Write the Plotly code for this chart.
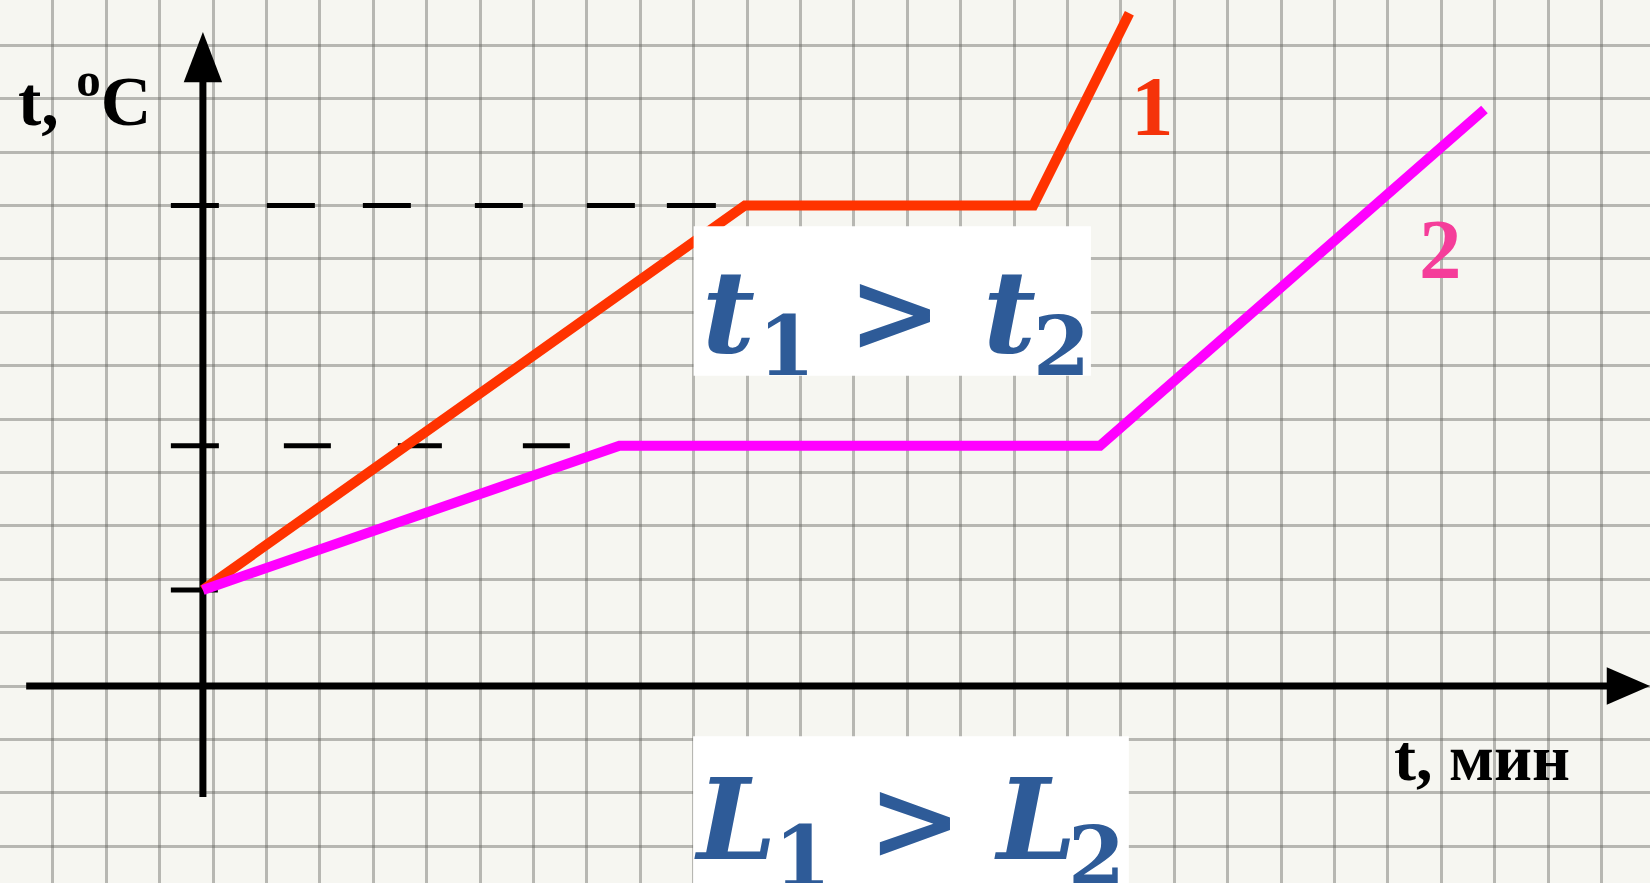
import plotly.graph_objects as go

# one grid cell of the paper = one unit on both axes
# curve 1 (red) and curve 2 (magenta): time vs temperature
time_1 = [0, 10.15, 15.55, 17.35]
temp_1 = [1.8, 9.0, 9.0, 12.6]
time_2 = [0, 7.8, 16.8, 24.0]
temp_2 = [1.8, 4.5, 4.5, 10.8]

# guide levels on the temperature axis and where each guide stops
guide_levels = [1.8, 4.5, 9.0]
guide_ends = [0.28, 7.8, 10.15]
guide_start = -0.6
guide_dashes = ["48px,48px",
                "48px,65px,47px,67px,44px,81px,47px,200px",
                "48px,48px,48px,48px,48px,64px,48px,64px,48px,32px,49px,200px"]

x_range = [-3.80, 27.10]
y_range = [-3.69, 12.85]
W, H = 1650, 883

PAPER = "#f6f6f1"
GRID = "rgba(95,95,90,0.42)"
RED = "#ff3300"
PINK = "#ff00ff"
BLUE = "#2e5b98"


def px_x(px):
    return x_range[0] + (x_range[1] - x_range[0]) * px / W


def px_y(py):
    return y_range[1] - (y_range[1] - y_range[0]) * py / H


fig = go.Figure()

# axes with arrow heads
fig.add_trace(go.Scatter(x=[-3.31, 26.3], y=[0, 0], mode="lines",
                         line=dict(color="black", width=7), hoverinfo="skip"))
fig.add_trace(go.Scatter(x=[0, 0], y=[-2.08, 11.35], mode="lines",
                         line=dict(color="black", width=7), hoverinfo="skip"))
fig.add_trace(go.Scatter(x=[26.29, 27.10, 26.29, 26.29], y=[0.35, 0, -0.35, 0.35],
                         mode="lines", fill="toself", fillcolor="black",
                         line=dict(color="black", width=0), hoverinfo="skip"))
fig.add_trace(go.Scatter(x=[-0.36, 0, 0.36, -0.36], y=[11.31, 12.25, 11.31, 11.31],
                         mode="lines", fill="toself", fillcolor="black",
                         line=dict(color="black", width=0), hoverinfo="skip"))

# dashed guides to the plateaus
for lvl, end, dash in zip(guide_levels, guide_ends, guide_dashes):
    fig.add_trace(go.Scatter(x=[guide_start, end], y=[lvl, lvl], mode="lines",
                             line=dict(color="black", width=5, dash=dash),
                             hoverinfo="skip"))

fig.add_trace(go.Scatter(x=time_1, y=temp_1, mode="lines",
                         line=dict(color=RED, width=10)))
fig.add_trace(go.Scatter(x=time_2, y=temp_2, mode="lines",
                         line=dict(color=PINK, width=10)))

# white panels behind the formulas
fig.add_shape(type="rect", x0=9.19, x1=16.63, y0=5.81, y1=8.61, layer="above",
              fillcolor="white", line=dict(width=0))
fig.add_shape(type="rect", x0=9.18, x1=17.34, y0=-4.0, y1=-0.94, layer="above",
              fillcolor="white", line=dict(width=0))

serif = "Liberation Serif"
math = "DejaVu Serif"

fig.add_annotation(x=-3.50, y=10.19, xanchor="left", yanchor="bottom", showarrow=False,
                   text="<b>t, <sup>o</sup>C</b>", font=dict(family=serif, size=70, color="black"))
fig.add_annotation(x=22.27, y=-2.06, xanchor="left", yanchor="bottom", showarrow=False,
                   text="<b>t, мин</b>", font=dict(family=serif, size=66, color="black"))
fig.add_annotation(x=17.79, y=9.94, xanchor="center", yanchor="bottom", showarrow=False,
                   text="<b>1</b>", font=dict(family=serif, size=85, color="#f5330a"))
fig.add_annotation(x=23.18, y=7.27, xanchor="center", yanchor="bottom", showarrow=False,
                   text="<b>2</b>", font=dict(family=serif, size=85, color="#f53d9a"))

# formulas set piece by piece: (text, font size, left px, baseline px)
formula_t = [("<i>t</i>", 115, 700, 350), ("1", 82, 756, 373), (">", 112, 846, 349),
             ("<i>t</i>", 115, 981, 350), ("2", 82, 1031, 373)]
formula_L = [("<i>L</i>", 113, 692, 857), ("1", 82, 772, 883), (">", 112, 866, 857),
             ("<i>L</i>", 113, 992, 857), ("2", 82, 1066, 883)]
for txt, size, left, base in formula_t + formula_L:
    top = base - 0.928 * size - 1
    fig.add_annotation(x=px_x(left), y=px_y(top), xanchor="left", yanchor="top",
                       showarrow=False, text="<b>" + txt + "</b>",
                       font=dict(family=math, size=size, color=BLUE))

fig.update_layout(
    width=W, height=H,
    margin=dict(l=0, r=0, t=0, b=0),
    paper_bgcolor=PAPER, plot_bgcolor=PAPER,
    showlegend=False,
    xaxis=dict(range=x_range, showgrid=True, dtick=1, tick0=0.191, gridcolor=GRID,
               gridwidth=3, zeroline=False, showticklabels=False, ticks="",
               showline=False, fixedrange=True),
    yaxis=dict(range=y_range, showgrid=True, dtick=1, tick0=0, gridcolor=GRID,
               gridwidth=3, zeroline=False, showticklabels=False, ticks="",
               showline=False, fixedrange=True),
)

# drop the browser's default page margin so the figure fills the window
fig.write_html("out.html", config={"displayModeBar": False},
               post_script="document.body.style.margin='0';")
